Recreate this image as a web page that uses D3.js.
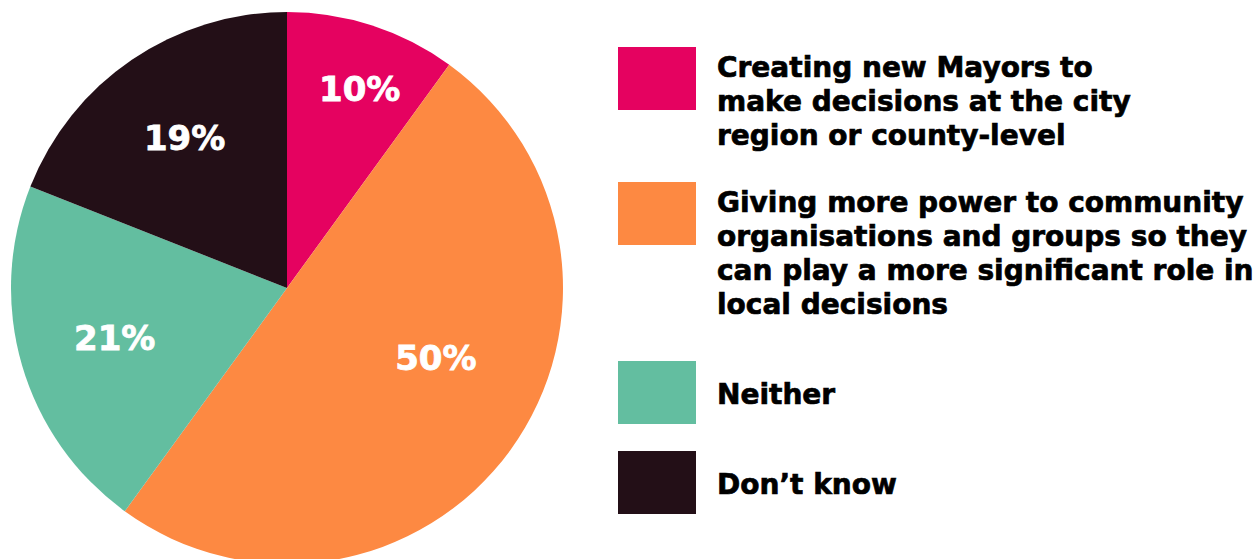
<!DOCTYPE html>
<html><head><meta charset="utf-8">
<script src="https://cdn.jsdelivr.net/npm/d3@7"></script>
<style>
  html, body { margin: 0; padding: 0; background: #fff; }
  svg { display: block; }
</style>
</head>
<body>
<svg id="chart" width="1258" height="559"></svg>
<script>
// Preferred option for local decision making (% of respondents)
const categories = [
  "Creating new Mayors to make decisions at the city region or county-level",
  "Giving more power to community organisations and groups so they can play a more significant role in local decisions",
  "Neither",
  "Don\u2019t know"
];
const values = [10, 50, 21, 19];
const colours = ["#e50260", "#fd8942", "#63bea0", "#230f17"];

// Legend text broken into the lines it is set on
const legendLines = [
  ["Creating new Mayors to", "make decisions at the city", "region or county-level"],
  ["Giving more power to community", "organisations and groups so they", "can play a more significant role in", "local decisions"],
  ["Neither"],
  ["Don\u2019t know"]
];

const FONT = "'DejaVu Sans', 'Liberation Sans', sans-serif";
const svg = d3.select("#chart");

// ---- pie ----
const cx = 287, cy = 288, radius = 276;
const pie = d3.pie().sort(null).value(d => d)(values);
const arc = d3.arc().innerRadius(0).outerRadius(radius);

const g = svg.append("g").attr("transform", `translate(${cx},${cy})`);
g.selectAll("path.slice")
  .data(pie)
  .join("path")
  .attr("class", "slice")
  .attr("d", arc)
  .attr("fill", (d, i) => colours[i]);

// label placement within each slice: fraction of radius and angular nudge (degrees)
const labelPlace = [
  { r: 0.77, nudge: 2 },
  { r: 0.595, nudge: -11 },
  { r: 0.65, nudge: 0 },
  { r: 0.66, nudge: 0 }
];
g.selectAll("text.pct")
  .data(pie)
  .join("text")
  .attr("class", "pct")
  .attr("transform", (d, i) => {
    const p = labelPlace[i];
    const a = (d.startAngle + d.endAngle) / 2 + p.nudge * Math.PI / 180;
    const r = p.r * radius;
    return `translate(${r * Math.sin(a)},${-r * Math.cos(a)})`;
  })
  .attr("text-anchor", "middle")
  .attr("dy", "0.36em")
  .attr("font-family", FONT)
  .attr("font-weight", 700)
  .attr("font-size", 34)
  .attr("fill", "#fff")
  .attr("stroke", "#fff")
  .attr("stroke-width", 0.8)
  .text(d => d.value + "%");

// ---- legend ----
const swatchX = 618, swatchW = 78, swatchH = 63, textX = 717, lineH = 34;
const itemTops = [47, 182, 361, 451];

const items = svg.append("g")
  .selectAll("g.item")
  .data(categories)
  .join("g")
  .attr("class", "item")
  .attr("transform", (d, i) => `translate(0,${itemTops[i]})`);

items.append("rect")
  .attr("x", swatchX)
  .attr("y", 0)
  .attr("width", swatchW)
  .attr("height", swatchH)
  .attr("fill", (d, i) => colours[i]);

items.append("text")
  .attr("font-family", FONT)
  .attr("font-weight", 700)
  .attr("font-size", 28)
  .attr("fill", "#000")
  .attr("stroke", "#000")
  .attr("stroke-width", 0.7)
  .each(function (d, i) {
    const lines = legendLines[i];
    const first = lines.length === 1 ? 43 : 30;
    d3.select(this).selectAll("tspan")
      .data(lines)
      .join("tspan")
      .attr("x", textX)
      .attr("y", (l, j) => first + j * lineH)
      .text(l => l);
  });
</script>
</body></html>
